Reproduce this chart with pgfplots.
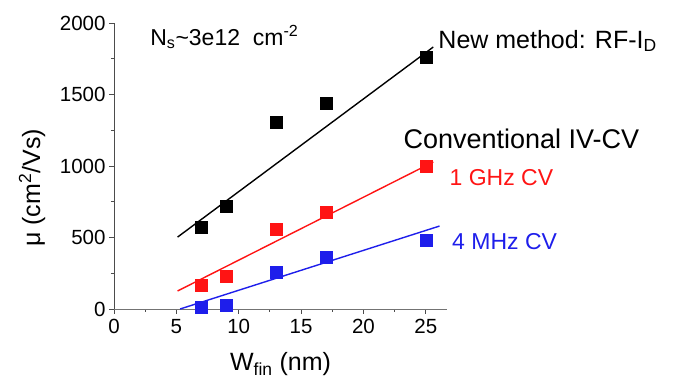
\documentclass[border=0pt]{standalone}
\usepackage{fontspec}
\setmainfont{Liberation Sans}
\usepackage{pgfplots}
\pgfplotsset{compat=1.18}
\definecolor{myblue}{RGB}{30,30,235}
\definecolor{myred}{RGB}{255,20,20}
\begin{document}
\begin{tikzpicture}
\useasboundingbox (-114pt,-78pt) rectangle (559pt,309pt);
\begin{axis}[
  at={(0,0)}, anchor=south west,
  scale only axis, width=333pt, height=286pt,
  xmin=0, xmax=26.7, ymin=0, ymax=2000,
  axis lines=left,
  axis line style={-, black!70, line width=0.9pt},
  x axis line style={black!55},
  tick align=outside,
  major tick length=5pt, minor tick length=3pt,
  tick style={black!70, line width=0.8pt},
  xtick={0,5,10,15,20,25}, ytick={0,500,1000,1500,2000},
  minor x tick num=1, minor y tick num=1,
  /pgf/number format/assume math mode=true,
  /pgf/number format/1000 sep={},
  tick label style={font=\fontsize{20.5pt}{21pt}\selectfont},
  xticklabel style={yshift=-2pt},
  xlabel={W\textsubscript{fin} (nm)},
  ylabel={μ (cm\textsuperscript{2}/Vs)},
  label style={font=\fontsize{25pt}{26pt}\selectfont},
  xlabel style={at={(axis description cs:0.5,0)}, anchor=base, yshift=-62pt},
  ylabel style={at={(axis description cs:-0.246,0.423)}, anchor=center, rotate=0},
  clip=false,
]
% fit lines
\addplot[black, line width=1.4pt, no marks] coordinates {(5.1,503) (25.6,1832)};
\addplot[myred, line width=1.4pt, no marks] coordinates {(5.1,126) (25.6,1028)};
\addplot[myblue, line width=1.4pt, no marks] coordinates {(5.3,0) (26.1,580)};
% data
\addplot[only marks, mark=square*, mark size=6pt, black] coordinates {(7,570) (9,720) (13,1305) (17,1440) (25,1760)};
\addplot[only marks, mark=square*, mark size=6pt, myred, mark options={fill=myred}] coordinates {(7,165) (9,230) (13,555) (17,680) (25,1000)};
\addplot[only marks, mark=square*, mark size=6pt, myblue, mark options={fill=myblue}] coordinates {(7,15) (9,30) (13,260) (17,360) (25,480)};
% annotations
\node[anchor=base west, inner sep=0pt, font=\fontsize{23pt}{24pt}\selectfont] at (axis cs:2.9,1845) {N\textsubscript{s}\textasciitilde 3e12\ \ cm\textsuperscript{-2}};
\node[anchor=base west, inner sep=0pt, font=\fontsize{25pt}{26pt}\selectfont] at (axis cs:26.0,1824) {New method: RF-I\textsubscript{D}};
\node[anchor=base west, inner sep=0pt, font=\fontsize{27pt}{28pt}\selectfont] at (axis cs:23.2,1125) {Conventional IV-CV};
\node[anchor=base west, inner sep=0pt, text=myred, font=\fontsize{23pt}{24pt}\selectfont] at (axis cs:26.9,867) {1 GHz CV};
\node[anchor=base west, inner sep=0pt, text=myblue, font=\fontsize{23pt}{24pt}\selectfont] at (axis cs:27.1,419) {4 MHz CV};
\end{axis}
\end{tikzpicture}
\end{document}
